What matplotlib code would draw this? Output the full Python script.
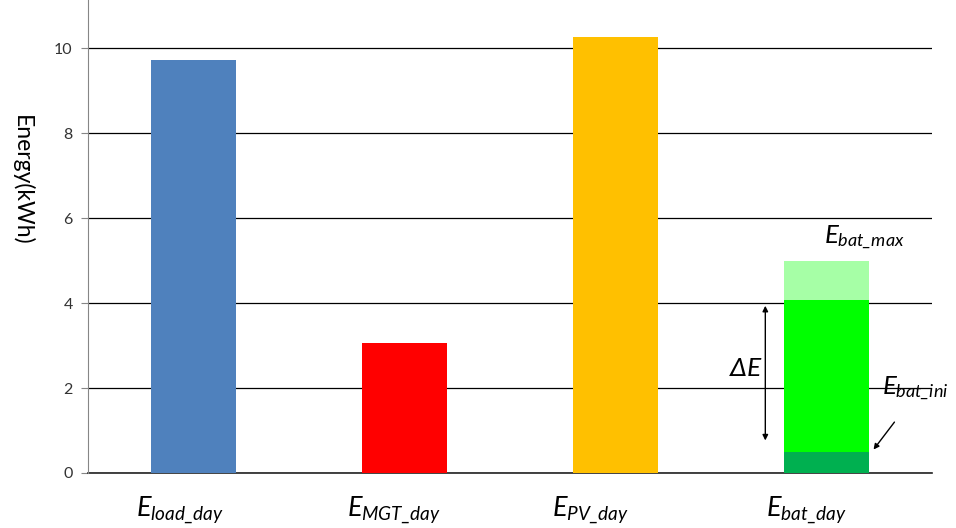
import matplotlib
matplotlib.use("Agg")
import matplotlib.pyplot as plt

plt.rcParams['font.family'] = ['Lato', 'DejaVu Sans']
plt.rcParams['mathtext.fontset'] = 'custom'
plt.rcParams['mathtext.it'] = 'Lato:italic'
plt.rcParams['mathtext.rm'] = 'Lato:italic'

# data
categories = ['load', 'MGT', 'PV', 'bat']
labels = [r'$E_{load\_day}$', r'$E_{MGT\_day}$', r'$E_{PV\_day}$', r'$E_{bat\_day}$']
single_values = [9.72, 3.06, 10.26]
single_colors = ['#4F81BD', '#FF0000', '#FFC000']
bat_ini = 0.49
bat_day = 4.07
bat_max = 4.99
yticks = [0, 2, 4, 6, 8, 10]

fig = plt.figure(figsize=(9.56, 5.28), dpi=100)
ax = fig.add_axes([88 / 956, 55 / 528, 844 / 956, 473 / 528])

x = list(range(len(categories)))
w = 0.4
ax.bar(x[:3], single_values, width=w, color=single_colors, zorder=3)
ax.bar(x[3], bat_ini, width=w, color='#00B050', zorder=3)
ax.bar(x[3], bat_day - bat_ini, bottom=bat_ini, width=w, color='#00FF00', zorder=3)
ax.bar(x[3], bat_max - bat_day, bottom=bat_day, width=w, color='#A6FFA6', zorder=3)

ax.set_xlim(-0.5, 3.5)
ax.set_ylim(0, 11.13)
ax.set_yticks(yticks)
ax.set_yticklabels([str(v) for v in yticks], fontsize=11.5, color='#333333')
ax.yaxis.grid(True, color='#000000', linewidth=0.9, zorder=0)
ax.axhline(0, color='#222222', linewidth=1.2, clip_on=False, zorder=2)
ax.tick_params(axis='y', length=5, color='#868686', pad=6)
ax.set_xticks([])
for s in ['top', 'right', 'bottom']:
    ax.spines[s].set_visible(False)
ax.spines['left'].set_color('#868686')

fig.text(22 / 956, 1 - 180 / 528, 'Energy(kWh)', rotation=270, fontsize=16.5,
         ha='center', va='center', color='#000000')

# category labels below the axis
label_x = [180, 394, 590, 806]
for lx, lab in zip(label_x, labels):
    fig.text(lx / 956, 1 - 510 / 528, lab, fontsize=19.5, ha='center', va='center')

# annotations
ax.text(x[3] + 0.18, bat_max + 0.55, r'$E_{bat\_max}$', fontsize=18.5, ha='center', va='center')
ax.text(x[3] - 0.38, 2.45, r'$\Delta E$', fontsize=19, ha='center', va='center')
ax.text(3.42, 2.0, r'$E_{bat\_ini}$', fontsize=18.5, ha='center', va='center')
ax.annotate('', xy=(x[3] - 0.29, 0.7), xytext=(x[3] - 0.29, 4.0),
            arrowprops=dict(arrowstyle='<|-|>', color='black', lw=1, mutation_scale=8))
ax.annotate('', xy=(x[3] + 0.215, 0.5), xytext=(x[3] + 0.33, 1.25),
            arrowprops=dict(arrowstyle='-|>', color='black', lw=1, mutation_scale=8))

fig.savefig('out.png', dpi=100)
